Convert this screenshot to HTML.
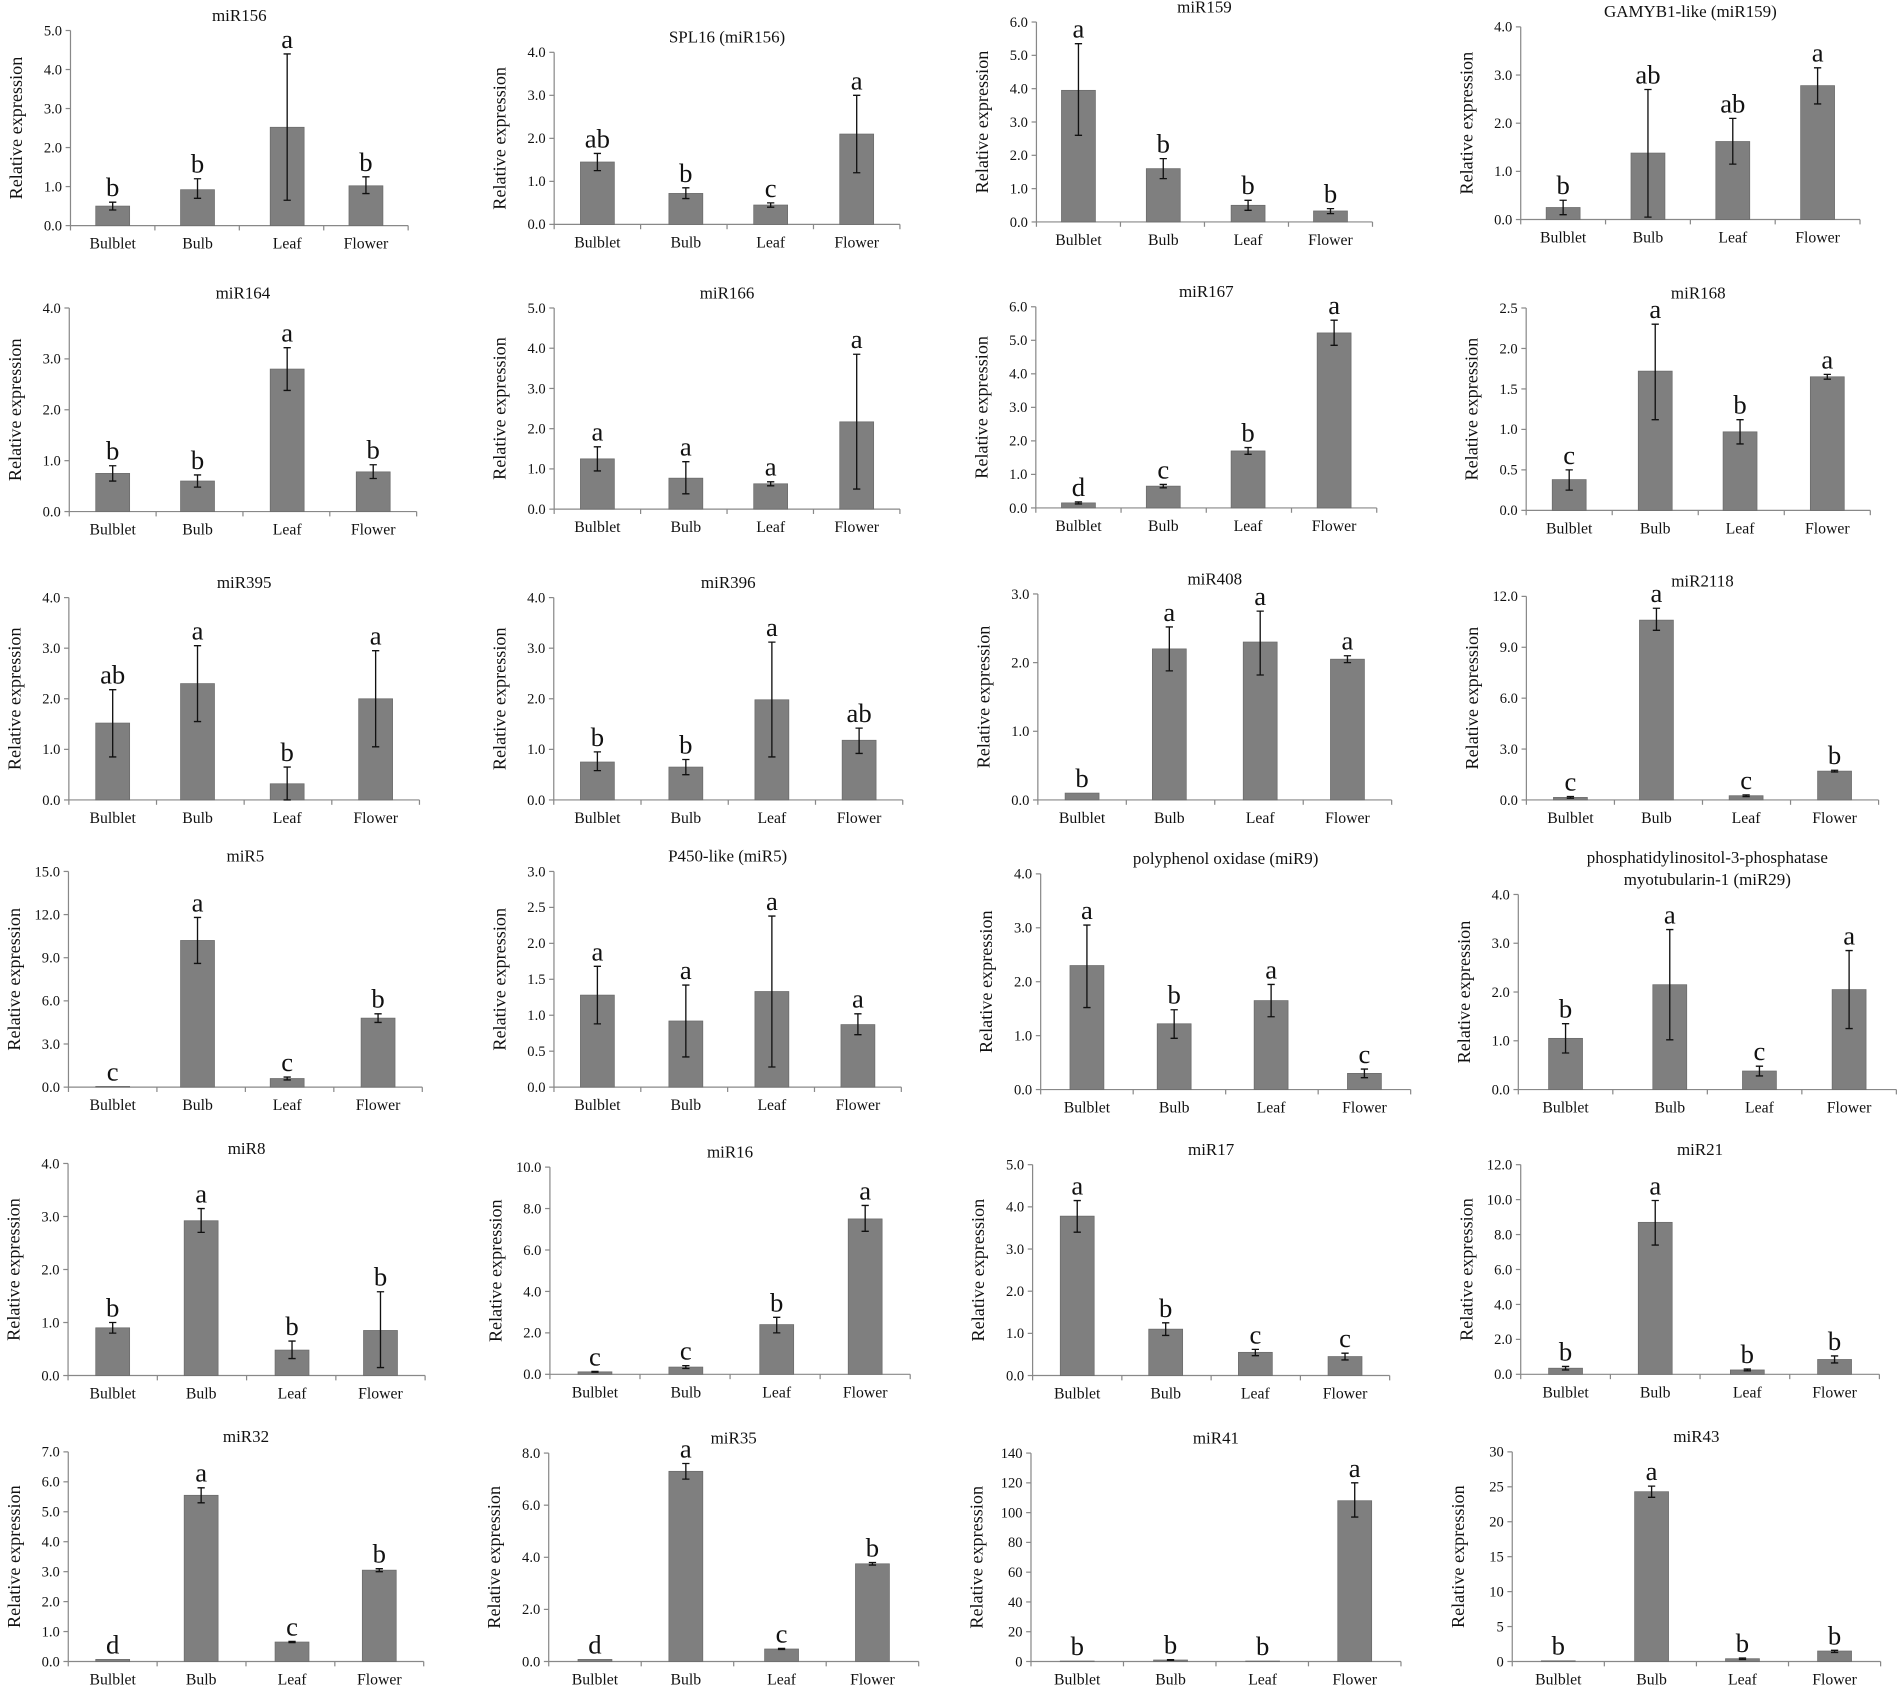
<!DOCTYPE html>
<html><head><meta charset="utf-8"><style>
html,body{margin:0;padding:0;background:#fff;width:1900px;height:1692px;overflow:hidden}
svg{display:block}
svg text{font-family:"Liberation Serif","DejaVu Serif",serif;fill:#111}
</style></head><body>
<svg id="s" width="1900" height="1692" viewBox="0 0 1568 1396" font-family="Liberation Serif, serif" xmlns="http://www.w3.org/2000/svg"></svg>
<script>
const P=[
["miR156",[93,163,237,302],25,186,5,1,1,[[0.5,0.4,0.6,"b"],[0.92,0.7,1.2,"b"],[2.52,0.65,4.4,"a"],[1.02,0.82,1.25,"b"]]],
["SPL16 (miR156)",[493,566,636,707],43,185,4,1,1,[[1.45,1.25,1.65,"ab"],[0.72,0.6,0.85,"b"],[0.45,0.4,0.5,"c"],[2.1,1.2,3.0,"a"]]],
["miR159",[890,960,1030,1098],18,183,6,1,1,[[3.95,2.6,5.35,"a"],[1.6,1.3,1.9,"b"],[0.5,0.35,0.65,"b"],[0.33,0.25,0.4,"b"]]],
["GAMYB1-like  (miR159)",[1290,1360,1430,1500],22,181,4,1,1,[[0.25,0.1,0.4,"b"],[1.38,0.05,2.7,"ab"],[1.62,1.15,2.1,"ab"],[2.78,2.4,3.15,"a"]]],
["miR164",[93,163,237,308],254,422,4,1,1,[[0.75,0.6,0.9,"b"],[0.6,0.48,0.72,"b"],[2.8,2.38,3.22,"a"],[0.78,0.65,0.92,"b"]]],
["miR166",[493,566,636,707],254,420,5,1,1,[[1.25,0.95,1.55,"a"],[0.77,0.38,1.18,"a"],[0.63,0.58,0.68,"a"],[2.17,0.5,3.85,"a"]]],
["miR167",[890,960,1030,1101],253,419,6,1,1,[[0.15,0.12,0.18,"d"],[0.65,0.6,0.7,"c"],[1.7,1.6,1.8,"b"],[5.22,4.85,5.6,"a"]]],
["miR168",[1295,1366,1436,1508],254,421,2.5,0.5,1,[[0.38,0.25,0.5,"c"],[1.72,1.12,2.3,"a"],[0.97,0.82,1.12,"b"],[1.65,1.62,1.68,"a"]]],
["miR395",[93,163,237,310],493,660,4,1,1,[[1.52,0.85,2.18,"ab"],[2.3,1.55,3.05,"a"],[0.32,0,0.65,"b"],[2.0,1.05,2.95,"a"]]],
["miR396",[493,566,637,709],493,660,4,1,1,[[0.75,0.58,0.95,"b"],[0.65,0.5,0.8,"b"],[1.98,0.85,3.12,"a"],[1.18,0.92,1.42,"ab"]]],
["miR408",[893,965,1040,1112],490,660,3,1,1,[[0.1,0.1,0.1,"b"],[2.2,1.88,2.52,"a"],[2.3,1.82,2.75,"a"],[2.05,2.0,2.1,"a"]]],
["miR2118",[1296,1367,1441,1514],492,660,12,3,1,[[0.15,0.1,0.2,"c"],[10.6,10.0,11.3,"a"],[0.25,0.2,0.3,"c"],[1.7,1.65,1.75,"b"]]],
["miR5",[93,163,237,312],719,897,15,3,1,[[0.05,0.05,0.05,"c"],[10.2,8.6,11.8,"a"],[0.6,0.5,0.7,"c"],[4.8,4.5,5.1,"b"]]],
["P450-like (miR5)",[493,566,637,708],719,897,3,0.5,1,[[1.28,0.88,1.68,"a"],[0.92,0.42,1.42,"a"],[1.33,0.28,2.38,"a"],[0.87,0.73,1.02,"a"]]],
["polyphenol oxidase (miR9)",[897,969,1049,1126],721,899,4,1,1,[[2.3,1.52,3.05,"a"],[1.22,0.95,1.48,"b"],[1.65,1.35,1.95,"a"],[0.3,0.22,0.38,"c"]]],
["phosphatidylinositol-3-phosphatase|myotubularin-1  (miR29)",[1292,1378,1452,1526],738,899,4,1,1,[[1.05,0.75,1.35,"b"],[2.15,1.02,3.28,"a"],[0.38,0.28,0.48,"c"],[2.05,1.25,2.85,"a"]]],
["miR8",[93,166,241,314],960,1135,4,1,1,[[0.9,0.8,1.0,"b"],[2.92,2.7,3.15,"a"],[0.48,0.32,0.65,"b"],[0.85,0.15,1.58,"b"]]],
["miR16",[491,566,641,714],963,1134,10,2,1,[[0.12,0.1,0.14,"c"],[0.35,0.28,0.42,"c"],[2.4,2.0,2.75,"b"],[7.5,6.9,8.15,"a"]]],
["miR17",[889,962,1036,1110],961,1135,5,1,1,[[3.78,3.4,4.15,"a"],[1.1,0.95,1.25,"b"],[0.55,0.47,0.62,"c"],[0.45,0.37,0.53,"c"]]],
["miR21",[1292,1366,1442,1514],961,1134,12,2,1,[[0.35,0.25,0.45,"b"],[8.7,7.4,9.95,"a"],[0.25,0.2,0.3,"b"],[0.85,0.65,1.05,"b"]]],
["miR32",[93,166,241,313],1198,1371,7,1,1,[[0.07,0.07,0.07,"d"],[5.55,5.3,5.8,"a"],[0.65,0.63,0.67,"c"],[3.05,3.0,3.1,"b"]]],
["miR35",[491,566,645,720],1199,1371,8,2,1,[[0.08,0.08,0.08,"d"],[7.3,7.0,7.6,"a"],[0.48,0.46,0.5,"c"],[3.75,3.7,3.8,"b"]]],
["miR41",[889,966,1042,1118],1199,1371,140,20,0,[[0.3,0.3,0.3,"b"],[1.0,0.8,1.2,"b"],[0.3,0.3,0.3,"b"],[108,97,120,"a"]]],
["miR43",[1286,1363,1438,1514],1198,1371,30,5,0,[[0.1,0.1,0.1,"b"],[24.3,23.5,25.1,"a"],[0.4,0.3,0.5,"b"],[1.5,1.3,1.6,"b"]]]
];
const cats=["Bulblet","Bulb","Leaf","Flower"];
const F='font-family="Liberation Serif, serif"';
let h="";
for(const [t,xs,yt,y0,mx,st,dec,d] of P){
 const sp=(xs[3]-xs[0])/3, x0=xs[0]-sp/2, x1=xs[3]+sp/2, sc=(y0-yt)/mx;
 const Y=v=>y0-v*sc, cx=(x0+x1)/2;
 const lines=t.split("|");
 lines.forEach((l,i)=>{h+=`<text ${F} x="${cx}" y="${yt-8-(lines.length-1-i)*18}" font-size="14" text-anchor="middle">${l}</text>`;});
 h+=`<line x1="${x0}" y1="${yt}" x2="${x0}" y2="${y0}" stroke="#888"/><line x1="${x0}" y1="${y0}" x2="${x1}" y2="${y0}" stroke="#888"/>`;
 for(let v=0;v<=mx+1e-9;v+=st){const y=Y(v);h+=`<line x1="${x0-4}" y1="${y}" x2="${x0}" y2="${y}" stroke="#888"/><text ${F} x="${x0-7}" y="${y+4}" font-size="12" text-anchor="end">${dec?v.toFixed(1):v}</text>`;}
 for(let i=0;i<=4;i++){const x=x0+i*sp;h+=`<line x1="${x}" y1="${y0}" x2="${x}" y2="${y0+4}" stroke="#888"/>`;}
 h+=`<text ${F} transform="translate(${x0-40},${(yt+y0)/2}) rotate(-90)" font-size="15" text-anchor="middle">Relative expression</text>`;
 d.forEach(([v,lo,hi,l],i)=>{const x=xs[i];
  h+=`<rect x="${x-14}" y="${Y(v)}" width="28" height="${v*sc}" fill="#7f7f7f" stroke="#6a6a6a" stroke-width="0.6"/>`;
  if(hi>lo+0.001){h+=`<path d="M${x} ${Y(hi)}V${Y(lo)}M${x-3} ${Y(hi)}H${x+3}M${x-3} ${Y(lo)}H${x+3}" stroke="#111" stroke-width="1.1" fill="none"/>`;}
  h+=`<text ${F} x="${x}" y="${Math.min(Y(hi),Y(v))-5}" font-size="22" text-anchor="middle">${l}</text>`;
  h+=`<text ${F} x="${x}" y="${y0+19}" font-size="13" text-anchor="middle">${cats[i]}</text>`;
 });
}
document.getElementById("s").innerHTML=h;
</script>
</body></html>
